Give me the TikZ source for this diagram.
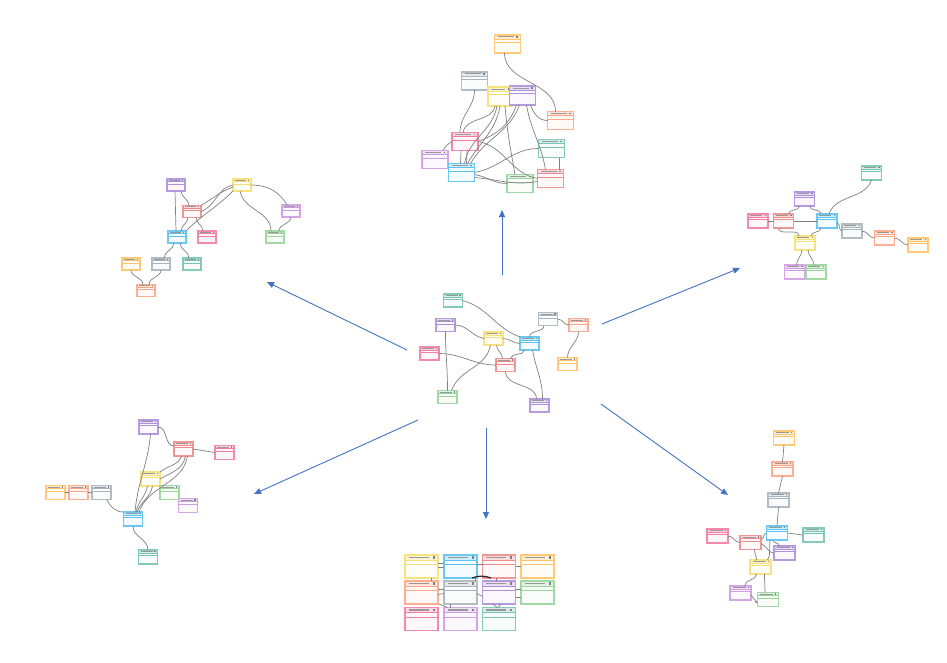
\documentclass[tikz,border=0pt]{standalone}
\usetikzlibrary{calc,arrows.meta}
\definecolor{kyel}{HTML}{F6DF72}
\definecolor{kblue}{HTML}{5BC2EE}
\definecolor{kred}{HTML}{EE8A8A}
\definecolor{korg}{HTML}{FFC368}
\definecolor{ksal}{HTML}{FFA487}
\definecolor{kgray}{HTML}{A9B5BD}
\definecolor{kpur}{HTML}{AE8FDC}
\definecolor{kgrn}{HTML}{98D49A}
\definecolor{kpink}{HTML}{F37BA4}
\definecolor{kvio}{HTML}{D19BE3}
\definecolor{kteal}{HTML}{76C4B4}
\definecolor{karrow}{HTML}{4472C4}
\tikzset{
  tblnode/.style={rectangle, inner sep=0pt, outer sep=0pt},
  lk/.style={draw=black!50, line width=0.7pt},
  arr/.style={draw=karrow, line width=0.9pt, -{Triangle[length=7pt,width=6pt]}},
}
\newcommand\erbox[6]{%
  \node[tblnode, fill=#2!6, minimum width=#5pt, minimum height=#6pt] (#1) at (#3,-#4) {};
  \fill[#2!30] (#1.north west) rectangle ($(#1.north east)+(0,-0.22*#6)$);
  \draw[#2, line width=0.4pt] ($(#1.north west)+(0,-0.22*#6)$) -- ($(#1.north east)+(0,-0.22*#6)$);
  \draw[#2, line width=0.4pt] ($(#1.north west)+(0,-0.40*#6)$) -- ($(#1.north east)+(0,-0.40*#6)$);
  \draw[black!40, line width={0.055pt*#6}, dash pattern=on 0.6pt off 0.4pt] ($(#1.north west)+(0.12*#5,-0.11*#6)$) -- ($(#1.north west)+(0.7*#5,-0.11*#6)$);
  \fill[black!50] ($(#1.north west)+(0.84*#5,-0.06*#6)$) rectangle ++(0.09*#6,-0.1*#6);
  \draw[#2!90, line width=1.2pt] (#1.north west) rectangle (#1.south east);
}
\begin{document}
\begin{tikzpicture}[x=1pt,y=1pt]
\fill[white] (0,0) rectangle (947,-662);
\useasboundingbox (0,0) rectangle (947,-662);

% ---------------- central cluster ----------------
\erbox{cteal}{kteal}{453}{300.5}{19}{13}
\erbox{cpur}{kpur}{445.5}{325}{19}{13}
\erbox{cyel}{kyel}{493.5}{338.5}{19}{13}
\erbox{cpink}{kpink}{429.5}{353.5}{19}{13}
\erbox{cgray}{kgray}{548}{319}{19}{13}
\erbox{csal}{ksal}{578.5}{325}{19}{13}
\erbox{cblue}{kblue}{529.5}{343.5}{19}{13}
\erbox{cred}{kred}{505.5}{365}{19}{13}
\erbox{corg}{korg}{567.5}{364}{19}{13}
\erbox{cgrn}{kgrn}{447.5}{397}{19}{13}
\erbox{cpurb}{kpur}{539.5}{405.5}{19}{13}

\draw[lk] (cteal.east) to[out=-15,in=160] (cblue.north west);
\draw[lk] (cpur.east) to[out=0,in=170] (cyel.west);
\draw[lk] (cpur.south) to[out=-90,in=90] (cgrn.north);
\draw[lk] (cyel.east) to[out=0,in=180] (cblue.west);
\draw[lk] ([xshift=3pt]cyel.south) to[out=-90,in=90] ([xshift=-3pt]cred.north);
\draw[lk] ([xshift=-3pt]cyel.south) to[out=-100,in=70] ([xshift=4pt]cgrn.north);
\draw[lk] (cpink.east) to[out=0,in=180] (cred.west);
\draw[lk] ([xshift=-5pt]cblue.south) to[out=-100,in=80] ([xshift=5pt]cred.north);
\draw[lk] (cblue.north) to[out=90,in=-90] ([xshift=-4pt]cgray.south);
\draw[lk] (cgray.east) to[out=0,in=180] (csal.west);
\draw[lk] (csal.south) to[out=-90,in=90] (corg.north);
\draw[lk] (cred.south) to[out=-90,in=90] ([xshift=-3pt]cpurb.north);
\draw[lk] ([xshift=3pt]cblue.south) to[out=-80,in=90] ([xshift=3pt]cpurb.north);

% ---------------- top cluster ----------------
\erbox{torg}{korg}{507.5}{44}{26}{18}
\erbox{tgray}{kgray}{474.5}{81}{26}{18}
\erbox{tyel}{kyel}{500}{96.5}{24}{19}
\erbox{tpur}{kpur}{522.5}{95.5}{26}{19}
\erbox{tsal}{ksal}{560.5}{120.5}{26}{18}
\erbox{tpink}{kpink}{465}{141.5}{26}{18}
\erbox{tteal}{kteal}{551.5}{148.5}{26}{18}
\erbox{tvio}{kvio}{435}{159.5}{26}{18}
\erbox{tblue}{kblue}{461.5}{172.5}{26}{18}
\erbox{tgrn}{kgrn}{520}{183.5}{26}{18}
\erbox{tred}{kred}{550.5}{178.5}{26}{18}

\draw[lk] ([xshift=-3pt]torg.south) to[out=-90,in=90] ([xshift=-5pt]tsal.north);
\draw[lk] (tgray.south) to[out=-90,in=90] ([xshift=-5pt]tpink.north);
\draw[lk] ([xshift=-5pt]tyel.south) to[out=-100,in=80] ([xshift=-2pt]tpink.north);
\draw[lk] ([xshift=-3pt]tyel.south) to[out=-100,in=80] ([xshift=3pt]tblue.north);
\draw[lk] (tyel.south) to[out=-100,in=60] ([xshift=6pt]tblue.north);
\draw[lk] ([xshift=5pt]tyel.south) to[out=-85,in=100] ([xshift=-5pt]tgrn.north);
\draw[lk] ([xshift=-6pt]tpur.south) to[out=-110,in=20] (tpink.east);
\draw[lk] ([xshift=-3pt]tpur.south) to[out=-110,in=60] ([xshift=9pt]tblue.north);
\draw[lk] ([xshift=4pt]tpur.south) to[out=-80,in=100] ([xshift=-5pt]tred.north);
\draw[lk] (tsal.west) to[out=180,in=-70] ([xshift=8pt]tpur.south);
\draw[lk] (tpink.east) to[out=-10,in=170] (tred.west);
\draw[lk] (tpink.west) to[out=-150,in=60] ([xshift=8pt]tvio.north);
\draw[lk] (tteal.west) to[out=180,in=10] (tblue.east);
\draw[lk] ([yshift=-2pt]tblue.east) to[out=-10,in=180] (tgrn.west);
\draw[lk] ([yshift=-5pt]tblue.east) to[out=-5,in=190] ([yshift=-3pt]tred.west);
\draw[lk] ([xshift=8pt]tteal.south) -- ([xshift=9pt]tred.north);
\draw[lk] ([xshift=-4pt]tpink.south) -- ([xshift=-1pt]tblue.north);
\draw[lk] ([xshift=2pt]tpink.south) -- ([xshift=5pt]tblue.north);

% ---------------- upper-left cluster ----------------
\erbox{lpur}{kpur}{176}{185}{18}{12}
\erbox{lyel}{kyel}{242}{185}{18}{12}
\erbox{lred}{kred}{192}{211.5}{18}{12}
\erbox{lpurb}{kvio}{291}{211}{18}{12}
\erbox{lblue}{kblue}{177}{237}{18}{12}
\erbox{lpink}{kpink}{207}{237}{18}{12}
\erbox{lgrn}{kgrn}{275}{237}{18}{12}
\erbox{lorg}{korg}{131}{264}{18}{12}
\erbox{lgray}{kgray}{161}{264}{18}{12}
\erbox{lteal}{kteal}{192}{264}{18}{12}
\erbox{lsal}{ksal}{146}{290.5}{18}{12}

\draw[lk] ([xshift=5pt]lpur.south) to[out=-90,in=90] ([xshift=-3pt]lred.north);
\draw[lk] ([xshift=-1pt]lpur.south) -- ([xshift=-1pt]lblue.north);
\draw[lk] (lyel.west) to[out=190,in=20] (lred.east);
\draw[lk] ([yshift=-2pt]lyel.west) to[out=200,in=30] (lred.north east);
\draw[lk] (lyel.south west) to[out=-135,in=45] (lblue.north east);
\draw[lk] ([xshift=-2pt]lyel.south) to[out=-80,in=90] ([xshift=-4pt]lgrn.north);
\draw[lk] (lyel.east) to[out=0,in=120] ([xshift=-4pt]lpurb.north);
\draw[lk] (lpurb.south) to[out=-90,in=90] ([xshift=4pt]lgrn.north);
\draw[lk] ([xshift=-4pt]lred.south) to[out=-90,in=90] ([xshift=4pt]lblue.north);
\draw[lk] ([xshift=4pt]lred.south) to[out=-90,in=90] ([xshift=-4pt]lpink.north);
\draw[lk] ([xshift=-3pt]lblue.south) to[out=-90,in=90] ([xshift=3pt]lgray.north);
\draw[lk] ([xshift=3pt]lblue.south) to[out=-90,in=90] ([xshift=-3pt]lteal.north);
\draw[lk] (lorg.south) to[out=-90,in=90] ([xshift=-3pt]lsal.north);
\draw[lk] (lgray.south) to[out=-90,in=90] ([xshift=3pt]lsal.north);

% ---------------- right cluster ----------------
\erbox{rteal}{kteal}{871.5}{173}{20}{14}
\erbox{rpur}{kpur}{804.5}{199}{20}{14}
\erbox{rpink}{kpink}{758}{221}{20}{14}
\erbox{rred}{kred}{783.5}{221}{20}{14}
\erbox{rblue}{kblue}{827}{221}{20}{14}
\erbox{rgray}{kgray}{852}{231}{20}{14}
\erbox{rsal}{ksal}{884.5}{238}{20}{14}
\erbox{rorg}{korg}{918}{245}{20}{14}
\erbox{ryel}{kyel}{805}{243}{20}{14}
\erbox{rpurb}{kvio}{794.5}{272}{20}{14}
\erbox{rgrn}{kgrn}{816}{272}{20}{14}

\draw[lk] (rteal.south) to[out=-110,in=70] ([xshift=2pt]rblue.north);
\draw[lk] ([xshift=-5pt]rpur.south) to[out=-90,in=90] ([xshift=5pt]rred.north);
\draw[lk] ([xshift=5pt]rpur.south) to[out=-90,in=90] ([xshift=-6pt]rblue.north);
\draw[lk] (rpink.east) -- (rred.west);
\draw[lk] (rred.east) -- (rblue.west);
\draw[lk] ([xshift=-5pt]rred.south) to[out=-90,in=90] ([xshift=-6pt]ryel.north);
\draw[lk] ([xshift=-6pt]rblue.south) to[out=-90,in=90] ([xshift=6pt]ryel.north);
\draw[lk] ([yshift=-2pt]rblue.east) to[out=0,in=180] (rgray.west);
\draw[lk] (rgray.east) to[out=0,in=180] (rsal.west);
\draw[lk] (rsal.east) to[out=0,in=180] (rorg.west);
\draw[lk] ([xshift=-3pt]ryel.south) to[out=-90,in=90] ([xshift=2pt]rpurb.north);
\draw[lk] ([xshift=3pt]ryel.south) to[out=-90,in=90] ([xshift=-2pt]rgrn.north);

% ---------------- lower-left cluster ----------------
\erbox{ppur}{kpur}{148.5}{427}{19}{14}
\erbox{pred}{kred}{183.5}{449}{19}{14}
\erbox{ppink}{kpink}{224.5}{452.5}{19}{14}
\erbox{pyel}{kyel}{150.5}{479}{19}{14}
\erbox{pgrn}{kgrn}{169.5}{492.5}{19}{14}
\erbox{ppurb}{kvio}{188}{505.5}{19}{14}
\erbox{porg}{korg}{55.5}{492.5}{19}{14}
\erbox{psal}{ksal}{78.5}{492.5}{19}{14}
\erbox{pgray}{kgray}{101.5}{492.5}{19}{14}
\erbox{pblue}{kblue}{133}{519}{19}{14}
\erbox{pteal}{kteal}{148}{557}{19}{14}

\draw[lk] (ppur.east) to[out=0,in=180] ([yshift=3pt]pred.west);
\draw[lk] ([xshift=2pt]ppur.south) to[out=-95,in=85] ([xshift=2pt]pblue.north);
\draw[lk] (pred.east) -- (ppink.west);
\draw[lk] ([xshift=-2pt]pred.south) to[out=-110,in=40] (pyel.north east);
\draw[lk] ([xshift=2pt]pred.south) to[out=-100,in=30] (pyel.east);
\draw[lk] ([xshift=4pt]pred.south) to[out=-100,in=70] ([xshift=6pt]pblue.north);
\draw[lk] ([xshift=-3pt]pyel.south) to[out=-100,in=80] ([xshift=3pt]pblue.north);
\draw[lk] ([xshift=2pt]pyel.south) to[out=-100,in=70] ([xshift=4pt]pblue.north);
\draw[lk] (porg.east) -- (psal.west);
\draw[lk] (psal.east) -- (pgray.west);
\draw[lk] ([xshift=5pt]pgray.south) to[out=-60,in=180] (pblue.north west);
\draw[lk] (pblue.south) to[out=-90,in=90] (pteal.north);

% ---------------- lower-right cluster ----------------
\erbox{qorg}{korg}{784}{438}{21}{14}
\erbox{qsal}{ksal}{782.5}{469}{21}{14}
\erbox{qgray}{kgray}{778.5}{500}{21}{14}
\erbox{qblue}{kblue}{777}{533}{21}{14}
\erbox{qteal}{kteal}{813.5}{535}{21}{14}
\erbox{qpink}{kpink}{717.5}{536}{21}{14}
\erbox{qred}{kred}{750.5}{542.5}{21}{14}
\erbox{qpur}{kpur}{784.5}{553}{21}{14}
\erbox{qyel}{kyel}{760.5}{567}{21}{14}
\erbox{qpurb}{kvio}{740.5}{593}{21}{14}
\erbox{qgrn}{kgrn}{768}{599.5}{21}{14}

\draw[lk] (qorg.south) -- (qsal.north);
\draw[lk] (qsal.south) -- (qgray.north);
\draw[lk] (qgray.south) -- (qblue.north);
\draw[lk] (qblue.east) -- (qteal.west);
\draw[lk] (qblue.west) to[out=180,in=0] ([yshift=3pt]qred.east);
\draw[lk] (qpink.east) to[out=0,in=180] (qred.west);
\draw[lk] ([xshift=-4pt]qblue.south) to[out=-90,in=90] ([xshift=-5pt]qpur.north);
\draw[lk] ([yshift=-1pt]qred.east) to[out=-20,in=180] (qpur.west);
\draw[lk] ([xshift=-7pt]qblue.south) to[out=-100,in=60] ([xshift=7pt]qyel.north);
\draw[lk] ([xshift=4pt]qred.south) to[out=-90,in=90] ([xshift=-4pt]qyel.north);
\draw[lk] ([xshift=-4pt]qyel.south) to[out=-90,in=90] ([xshift=4pt]qpurb.north);
\draw[lk] ([xshift=4pt]qyel.south) to[out=-90,in=90] ([xshift=-3pt]qgrn.north);
\draw[lk,-{Latex[length=2.5pt,width=2.5pt]}] ([yshift=-2pt]qpurb.east) -- ([yshift=-4pt]qgrn.west);

% ---------------- bottom grid ----------------
\erbox{gyel}{kyel}{421.5}{566.5}{33}{23}
\erbox{gblue}{kblue}{460.5}{566.5}{33}{23}
\erbox{gred}{kred}{499}{566.5}{33}{23}
\erbox{gorg}{korg}{537.5}{566.5}{33}{23}
\erbox{gsal}{ksal}{421.5}{592.5}{33}{23}
\erbox{ggray}{kgray}{460.5}{592.5}{33}{23}
\erbox{gpur}{kpur}{499}{592.5}{33}{23}
\erbox{ggrn}{kgrn}{537.5}{592.5}{33}{23}
\erbox{gpink}{kpink}{421.5}{619}{33}{23}
\erbox{gvio}{kvio}{460.5}{619}{33}{23}
\erbox{gteal}{kteal}{499}{619}{33}{23}

\draw[lk] ([yshift=-1pt]gyel.east) -- ([yshift=-1pt]gblue.west);
\draw[lk] ([yshift=3pt]gyel.east) -- ([yshift=3pt]gblue.west);
\draw[lk] ([yshift=2pt]gblue.east) -- ([yshift=2pt]gred.west);
\draw[lk] (gred.east) -- (gorg.west);
\draw[lk] ([yshift=3pt]gsal.east) -- ([yshift=3pt]ggray.west);
\draw[lk] ([yshift=-2pt]gsal.east) -- ([yshift=-1pt]ggray.west);
\draw[lk] ([yshift=-1pt]ggray.east) -- ([yshift=-4pt]gpur.west);
\draw[lk] ([yshift=3pt]gpur.east) -- ([yshift=3pt]ggrn.west);
\draw[lk] ([yshift=-5pt]gpur.east) -- ([yshift=-5pt]ggrn.west);
\draw[lk] ([xshift=10pt]gyel.south) -- ([xshift=10pt]gsal.north);
\draw[lk] ([xshift=-10pt]ggray.south) -- ([xshift=-10pt]gvio.north);
\draw[lk] ([xshift=-5pt]ggray.south west) -- ([xshift=-13pt]gvio.north);
\draw[lk] ([xshift=-6pt]gpur.south) -- ([xshift=-2pt]gteal.north);
\draw[lk] ([xshift=2pt]gpur.south) -- ([xshift=-1pt]gteal.north);
\draw[draw=black!85, line width=1.2pt] ([xshift=-5pt]gblue.south east) to[out=20,in=160] ([xshift=-8pt]gred.south);
\draw[lk] ([xshift=-2pt]gblue.south east) -- ([xshift=-2pt]ggray.north east);
\draw[lk] ([xshift=-3pt]gred.south) -- ([xshift=-3pt]gpur.north);

% ---------------- arrows ----------------
\coordinate (aT0) at (502,-275);  \coordinate (aT1) at (502,-210);
\coordinate (aUR0) at (602,-324); \coordinate (aUR1) at (740,-268);
\coordinate (aLR0) at (601,-404); \coordinate (aLR1) at (728,-495);
\coordinate (aB0) at (486,-428);  \coordinate (aB1) at (486,-519);
\coordinate (aLL0) at (418,-420); \coordinate (aLL1) at (254,-494);
\coordinate (aUL0) at (407,-350); \coordinate (aUL1) at (267,-282);
\draw[arr] (aT0) -- (aT1);
\draw[arr] (aUR0) -- (aUR1);
\draw[arr] (aLR0) -- (aLR1);
\draw[arr] (aB0) -- (aB1);
\draw[arr] (aLL0) -- (aLL1);
\draw[arr] (aUL0) -- (aUL1);
\end{tikzpicture}
\end{document}
